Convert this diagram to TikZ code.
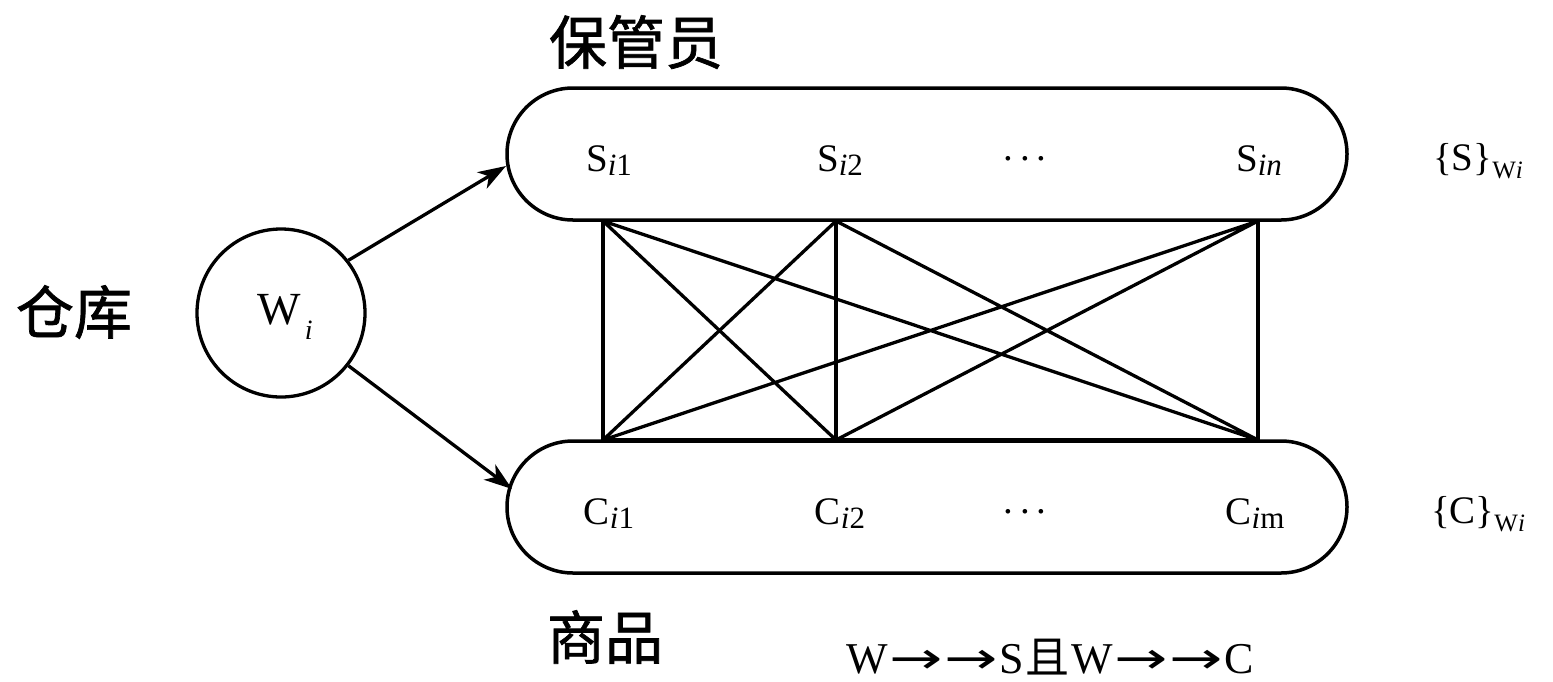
\documentclass[tikz,border=0pt]{standalone}
\usepackage{fontspec}
\setmainfont{Liberation Serif}
\newfontfamily\cjk[FakeBold=1.2]{Noto Sans CJK SC}
\newfontfamily\cjkr{Noto Sans CJK SC}
\newfontfamily\symfont{DejaVu Sans}
\usetikzlibrary{arrows.meta}
\newcommand{\sbx}[1]{\raisebox{-4pt}{\fontsize{31}{31}\selectfont #1}}
\newcommand{\sbw}[1]{\raisebox{-8pt}{\fontsize{25}{25}\selectfont #1}}
\newcommand{\dotsx}{\raisebox{5pt}{.\hspace{7pt}.\hspace{7pt}.}}
\newcommand{\arx}{\hspace{1pt}\scalebox{1.45}[1]{\symfont →}\hspace{1pt}}
\begin{document}
\begin{tikzpicture}[x=1pt,y=-1pt,
  stad/.style={draw, line width=3.5pt, rounded corners=66pt, minimum width=840pt, minimum height=132pt, inner sep=0pt},
  ln/.style={line width=3.3pt},
  arr/.style={line width=3.3pt, -{Stealth[length=28pt, width=19pt, inset=8pt]}},
  lab/.style={font=\fontsize{39}{39}\selectfont, inner sep=0pt},
  big/.style={font=\cjk\fontsize{58}{58}\selectfont, inner sep=0pt}]
\useasboundingbox (0,0) rectangle (1553,681);
\node[stad] (S) at (927,154) {};
\node[stad] (C) at (927,507) {};
\node[draw, circle, line width=3.3pt, minimum size=168pt, inner sep=0pt] (W) at (281,313) {};
\node[inner sep=0pt] (Wt) at (285,317) {\fontsize{46}{46}\selectfont W\hspace{4pt}\raisebox{-15pt}{\fontsize{28}{28}\selectfont\itshape i}};
\coordinate (a1) at (506,166);
\coordinate (a2) at (512,489);
\draw[arr] (W.38) -- (a1);
\draw[arr] (W.-38) -- (a2);
\coordinate (s1) at (603,221);
\coordinate (s2) at (836,221);
\coordinate (s3) at (1258,221);
\coordinate (c1) at (603,440);
\coordinate (c2) at (836,440);
\coordinate (c3) at (1258,440);
\draw[ln] (s1) -- (c1) (s2) -- (c2) (s3) -- (c3);
\draw[ln] (c1) -- (c3);
\draw[ln] (s1) -- (c2) (s1) -- (c3) (s2) -- (c1) (s2) -- (c3) (s3) -- (c1) (s3) -- (c2);
\node[lab] (ls1) at (609,161) {S\sbx{\itshape i\upshape 1}};
\node[lab] (ls2) at (840,161) {S\sbx{\itshape i\upshape 2}};
\node[lab] (ls3) at (1025,161) {\dotsx};
\node[lab] (ls4) at (1259,161) {S\sbx{\itshape in}};
\node[lab] (lsw) at (1478,161) {\{S\}\sbw{W\itshape i}};
\node[lab] (lc1) at (609,514) {C\sbx{\itshape i\upshape 1}};
\node[lab] (lc2) at (840,514) {C\sbx{\itshape i\upshape 2}};
\node[lab] (lc3) at (1025,514) {\dotsx};
\node[lab] (lc4) at (1255,514) {C\sbx{\itshape i\upshape m}};
\node[lab] (lcw) at (1478,514) {\{C\}\sbw{W\itshape i}};
\node[big] (t1) at (636,42) {保管员};
\node[big] (t2) at (74,312) {仓库};
\node[big] (t3) at (605,637) {商品};
\node[inner sep=0pt, font=\fontsize{44}{44}\selectfont] (f) at (1050,657) {W\arx\arx S\hspace{2pt}{\cjkr 且}\hspace{2pt}W\arx\arx C};
\end{tikzpicture}
\end{document}
